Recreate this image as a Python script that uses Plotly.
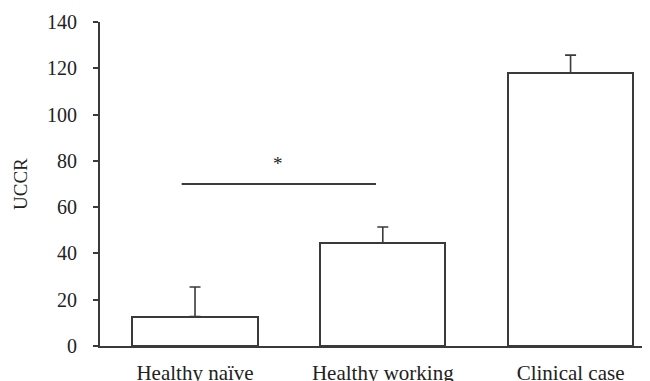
import plotly.graph_objects as go

# Data
categories = ["Healthy naïve", "Healthy working", "Clinical case"]
means = [12.7, 44.6, 118.1]
errors_up = [12.8, 6.8, 7.6]
sig_pair = [0, 1]
sig_level = 70
sig_label = "*"
y_ticks = [0, 20, 40, 60, 80, 100, 120, 140]

INK = "#3a3a3a"
TXT = "#222222"
FONT = "Liberation Serif, Times New Roman, serif"

x_idx = list(range(len(categories)))

fig = go.Figure()
fig.add_trace(go.Bar(
    x=x_idx, y=means, width=0.666,
    marker=dict(color="white", line=dict(color=INK, width=2)),
    error_y=dict(type="data", array=errors_up, arrayminus=[0] * len(means),
                 symmetric=False, color=INK, thickness=1.6, width=5.5),
    showlegend=False, hoverinfo="skip",
))

# significance bar
fig.add_shape(type="line", xref="x", yref="y",
              x0=sig_pair[0] - 0.071, x1=sig_pair[1] - 0.036,
              y0=sig_level, y1=sig_level,
              line=dict(color=INK, width=2.2))
fig.add_annotation(x=(sig_pair[0] + sig_pair[1]) / 2 - 0.058, y=sig_level,
                   xref="x", yref="y", text=sig_label, showarrow=False,
                   yanchor="bottom", yshift=8,
                   font=dict(family=FONT, size=19, color=TXT))

fig.add_annotation(text="UCCR", xref="paper", yref="paper", x=0, y=0.5,
                   xanchor="center", yanchor="middle",
                   xshift=-80, textangle=-90, showarrow=False,
                   font=dict(family=FONT, size=19, color=TXT))

# page has an 8px body margin; figure sized to fit the window
fig.update_layout(
    width=642, height=373,
    margin=dict(l=92, r=0, t=14, b=35, autoexpand=False),
    plot_bgcolor="white", paper_bgcolor="white",
    font=dict(family=FONT, size=20, color=TXT),
    bargap=0,
)
fig.update_xaxes(
    range=[-0.506, 2.423], tickvals=x_idx, ticktext=categories,
    showline=True, linecolor=INK, linewidth=2, ticks="",
    showgrid=False, zeroline=False, ticklabelstandoff=7,
    tickfont=dict(family=FONT, size=21, color=TXT), automargin=False,
)
fig.update_yaxes(
    range=[0, 140], tickvals=y_ticks,
    showline=True, linecolor=INK, linewidth=2,
    ticks="outside", ticklen=5, tickwidth=1.5, tickcolor=INK,
    showgrid=False, zeroline=False, ticklabelstandoff=12,
    tickfont=dict(family=FONT, size=20, color=TXT), automargin=False,
)

fig.write_html("out.html")
